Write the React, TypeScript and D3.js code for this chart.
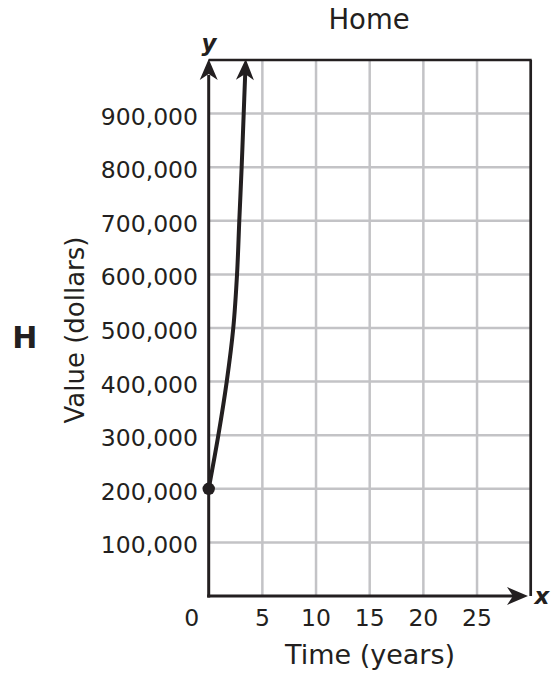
import React from "react";
import * as d3 from "d3";

const chartTitle = "Home";
const xTitle = "Time (years)";
const yTitle = "Value (dollars)";
const panelLabel = "H";
const xTicks = [0, 5, 10, 15, 20, 25];
const xGrid = [5, 10, 15, 20, 25];
const yTicks = [100000, 200000, 300000, 400000, 500000, 600000, 700000, 800000, 900000];
const curveTime = [0, 0.9, 1.68, 2.29, 2.64, 2.85, 3.07, 3.26, 3.45];
const curveValue = [200000, 300000, 400000, 500000, 600000, 700000, 800000, 900000, 1000000];

const W = 560;
const H = 675;
const FONT = "'DejaVu Sans', Verdana, sans-serif";
const INK = "#231f20";
const GRID = "#c3c3c6";

function arrowPath(tx: number, ty: number, angle: number, len = 21, half = 9, notch = 15) {
  const cos = Math.cos(angle);
  const sin = Math.sin(angle);
  const pt = (a: number, b: number) => [tx + a * cos - b * sin, ty + a * sin + b * cos];
  const p1 = pt(-len, -half);
  const p2 = pt(-notch, 0);
  const p3 = pt(-len, half);
  return `M${tx},${ty}L${p1[0]},${p1[1]}L${p2[0]},${p2[1]}L${p3[0]},${p3[1]}Z`;
}

export default function App() {
  const x = d3.scaleLinear().domain([0, 30]).range([208.7, 530.7]);
  const y = d3.scaleLinear().domain([0, 1000000]).range([596, 60]);
  const fmt = d3.format(",");

  const pts: [number, number][] = curveTime.map((t, i) => [x(t), y(curveValue[i])]);
  const tip = pts[pts.length - 1];
  const prev = pts[pts.length - 2];
  const ang = Math.atan2(tip[1] - prev[1], tip[0] - prev[0]);
  const lineEnd: [number, number] = [tip[0] - 15 * Math.cos(ang), tip[1] - 15 * Math.sin(ang)];
  const linePts = [...pts.slice(0, -1), lineEnd];
  const line = d3.line<[number, number]>().curve(d3.curveCatmullRom.alpha(0.5));

  const x0 = x(0);
  const x30 = x(30);
  const y0 = y(0);
  const yTop = y(1000000);

  return (
    <svg width={W} height={H} style={{ position: "absolute", left: 0, top: 0, background: "#fff" }} fontFamily={FONT}>
      <rect x={0} y={0} width={W} height={H} fill="#fff" />
      {xGrid.map((v) => (
        <line key={"gx" + v} x1={x(v)} x2={x(v)} y1={yTop} y2={y0} stroke={GRID} strokeWidth={2.5} />
      ))}
      {yTicks.map((v) => (
        <line key={"gy" + v} x1={x0} x2={x30} y1={y(v)} y2={y(v)} stroke={GRID} strokeWidth={2.5} />
      ))}
      <line x1={x0} x2={x30 + 1} y1={yTop} y2={yTop} stroke={INK} strokeWidth={2.7} />
      <line x1={x30} x2={x30} y1={yTop} y2={y0} stroke={INK} strokeWidth={2.7} />
      <line x1={x0} x2={x0} y1={y0 + 1.5} y2={yTop + 15} stroke={INK} strokeWidth={3} />
      <path d={arrowPath(x0, yTop - 1, -Math.PI / 2)} fill={INK} />
      <line x1={x0 - 1.5} x2={528 - 15} y1={y0} y2={y0} stroke={INK} strokeWidth={3} />
      <path d={arrowPath(528, y0, 0)} fill={INK} />
      <path d={line(linePts) || ""} fill="none" stroke={INK} strokeWidth={4} strokeLinecap="round" />
      <path d={arrowPath(tip[0], tip[1] - 1, ang)} fill={INK} />
      <circle cx={pts[0][0]} cy={pts[0][1]} r={6.2} fill={INK} />
      {yTicks.map((v) => (
        <text key={"ty" + v} x={198} y={y(v) + 11} textAnchor="end" fontSize={23.5} fill={INK}>
          {fmt(v)}
        </text>
      ))}
      {xTicks.map((v) => (
        <text key={"tx" + v} x={v === 0 ? 191.7 : x(v)} y={626} textAnchor="middle" fontSize={23.5} fill={INK}>
          {v}
        </text>
      ))}
      <text x={369} y={28.5} textAnchor="middle" fontSize={27.5} fill={INK}>
        {chartTitle}
      </text>
      <text x={370} y={664} textAnchor="middle" fontSize={27} fill={INK}>
        {xTitle}
      </text>
      <text transform={`translate(84,330) rotate(-90)`} textAnchor="middle" fontSize={26} fill={INK}>
        {yTitle}
      </text>
      <text x={24.7} y={348} textAnchor="middle" fontSize={30} fontWeight="bold" fill={INK}>
        {panelLabel}
      </text>
      <text x={209} y={51} textAnchor="middle" fontSize={23} fontWeight="bold" fontStyle="italic" fill={INK}>
        y
      </text>
      <text x={542} y={604} textAnchor="middle" fontSize={23} fontWeight="bold" fontStyle="italic" fill={INK}>
        x
      </text>
    </svg>
  );
}
